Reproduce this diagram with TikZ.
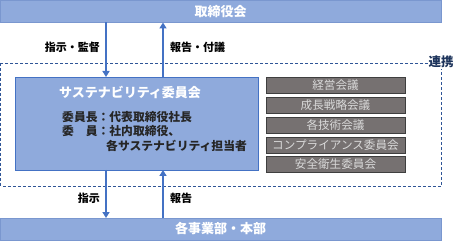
\documentclass[tikz,border=0pt]{standalone}
\usepackage{fontspec}
\setmainfont{Noto Sans CJK JP}
\usetikzlibrary{arrows.meta}
\definecolor{boxblue}{HTML}{8FAADC}
\definecolor{boxedge}{HTML}{7A97CF}
\definecolor{arrblue}{HTML}{4472C4}
\definecolor{dashblue}{HTML}{2F5597}
\definecolor{grayfill}{HTML}{767171}
\definecolor{grayedge}{HTML}{3F3F3F}
\definecolor{graytext}{HTML}{D9D9D9}
\tikzset{
  widebox/.style={draw=boxedge, fill=boxblue, line width=0.8pt, inner sep=0pt, outer sep=0pt,
    minimum width=441pt, minimum height=22pt, anchor=north west, text=white,
    font=\fontsize{13}{15}\selectfont\bfseries},
  commbox/.style={draw=arrblue, fill=boxblue, line width=0.8pt, inner sep=0pt, outer sep=0pt,
    minimum width=243pt, minimum height=93pt, anchor=north west},
  graybox/.style={draw=grayedge, fill=grayfill, line width=0.8pt, inner sep=0pt, outer sep=0pt,
    minimum width=139pt, minimum height=16pt, anchor=north west, text=graytext,
    font=\fontsize{11.6}{13}\selectfont},
  arr/.style={draw=arrblue, line width=2pt, -{Triangle[length=6pt,width=7pt]}},
  lbl/.style={font=\fontsize{11}{13}\selectfont\bfseries, text=black, inner sep=0pt},
  mem/.style={font=\fontsize{11.8}{14}\selectfont\bfseries, text=black!85, inner sep=0pt, anchor=west},
  dashframe/.style={draw=dashblue, line width=0.9pt, dash pattern=on 3pt off 2pt},
}
\begin{document}
\begin{tikzpicture}[x=1pt,y=-1pt]
\useasboundingbox (0,0) rectangle (466,243);
% dashed frame
\draw[dashframe] (0.8,63) rectangle (441.5,186);
\node[font=\fontsize{12.5}{14}\selectfont\bfseries, text=dashblue!60!black, fill=white, inner sep=1pt] (renkei) at (441,62) {連携};
% boxes
\node[widebox] (board) at (0,0.5) {取締役会};
\node[widebox] (divs) at (0,218) {各事業部・本部};
\node[commbox] (comm) at (15,77) {};
\node[text=white, font=\fontsize{13}{15}\selectfont\bfseries, inner sep=0pt] (ctitle) at (130,92) {サステナビリティ委員会};
\node[mem] (m1) at (62,117) {委員長：代表取締役社長};
\node[mem] (m2) at (62,131) {委　員：社内取締役、};
\node[mem] (m3) at (106,146) {各サステナビリティ担当者};
\node[graybox] (g1) at (266,77.5) {経営会議};
\node[graybox] (g2) at (266,97.5) {成長戦略会議};
\node[graybox] (g3) at (266,117.5) {各技術会議};
\node[graybox] (g4) at (266,137) {コンプライアンス委員会};
\node[graybox] (g5) at (266,156.5) {安全衛生委員会};
% arrows
\coordinate (xa) at (106,0);
\coordinate (xb) at (163,0);
\draw[arr] (board.south -| xa) -- (comm.north -| xa);
\draw[arr] (comm.north -| xb) -- (board.south -| xb);
\draw[arr] (comm.south -| xa) -- (divs.north -| xa);
\draw[arr] (divs.north -| xb) -- (comm.south -| xb);
% labels
\node[lbl, anchor=east] (l1) at (100,47) {指示・監督};
\node[lbl, anchor=west] (l2) at (170,47) {報告・付議};
\node[lbl, anchor=east] (l3) at (100,198) {指示};
\node[lbl, anchor=west] (l4) at (170,198) {報告};
\end{tikzpicture}
\end{document}
